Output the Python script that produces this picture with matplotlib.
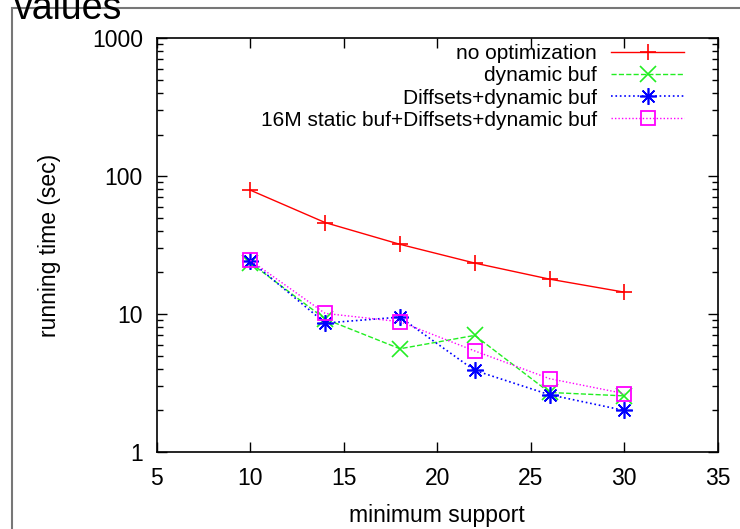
import matplotlib
matplotlib.use("Agg")
import matplotlib.pyplot as plt
from matplotlib.patches import Rectangle
from matplotlib.ticker import LogLocator, NullFormatter, FixedLocator

plt.rcParams['font.family'] = ['Liberation Sans', 'DejaVu Sans']

# minimum support values
support = [10, 14, 18, 22, 26, 30]

# running times (sec)
no_opt = [79, 46, 32, 23.4, 17.9, 14.4]
dyn_buf = [23.5, 9.2, 5.6, 7.0, 2.7, 2.55]
diffsets_dyn = [24.3, 8.6, 9.5, 3.9, 2.6, 2.0]
static_diffsets_dyn = [24.5, 10.1, 8.8, 5.4, 3.4, 2.65]

labels = ['no optimization', 'dynamic buf', 'Diffsets+dynamic buf',
          '16M static buf+Diffsets+dynamic buf']

FS = 16.5

fig = plt.figure(figsize=(7.4, 5.29), dpi=100)
ax = fig.add_axes([0.212, 0.1456, 0.758, 0.7824])

# outer gray frame, cut off at right/bottom like the source screenshot
fig.patches.append(Rectangle((12 / 740, -0.1), 1.0, (529 - 8) / 529 + 0.1,
                             transform=fig.transFigure, fill=False,
                             edgecolor='#777777', linewidth=1.5))
fig.text(14 / 740, 1.0 + 0.017, 'values', fontsize=27, ha='left', va='top')

ax.plot(support, no_opt, color='#ff0000', linestyle='-', linewidth=1,
        marker='+', markersize=12, markeredgewidth=1.2, label=labels[0])
ax.plot(support, dyn_buf, color='#22ee22', linestyle='--', linewidth=1,
        marker='x', markersize=11, markeredgewidth=1.2, label=labels[1])
ax.plot(support, diffsets_dyn, color='#0000ff', linestyle=':', linewidth=1.2,
        marker=(8, 2, 0), markersize=12, markeredgewidth=1.2, label=labels[2])
ax.plot(support, static_diffsets_dyn, color='#ff00ff', linestyle=(0, (1, 1.5)),
        linewidth=1, marker='s', markersize=10, markerfacecolor='none',
        markeredgewidth=1.3, label=labels[3])

ax.set_yscale('log')
ax.set_xlim(5, 35)
ax.set_ylim(1, 1000)
ax.xaxis.set_major_locator(FixedLocator([5, 10, 15, 20, 25, 30, 35]))
ax.yaxis.set_minor_locator(LogLocator(base=10, subs=range(2, 10), numticks=10))
ax.yaxis.set_minor_formatter(NullFormatter())
ax.set_yticks([1, 10, 100, 1000])
ax.set_yticklabels(['1', '10', '100', '1000'])

ax.tick_params(which='both', direction='in', top=True, right=True, labelsize=FS)
ax.tick_params(which='major', length=7, width=1)
ax.tick_params(which='minor', length=4, width=1)
ax.tick_params(axis='x', pad=11)
ax.tick_params(axis='y', pad=10)
for s in ax.spines.values():
    s.set_linewidth(1.2)

ax.set_xlabel('minimum support', fontsize=FS, labelpad=10)
ax.set_ylabel('running time (sec)', fontsize=FS, labelpad=22)

ax.legend(loc='upper right', bbox_to_anchor=(0.955, 1.005), frameon=False,
          markerfirst=False, fontsize=15, handlelength=3.5,
          labelspacing=0.15, borderaxespad=0.0, handletextpad=0.7)

fig.savefig('out.png', dpi=100)
